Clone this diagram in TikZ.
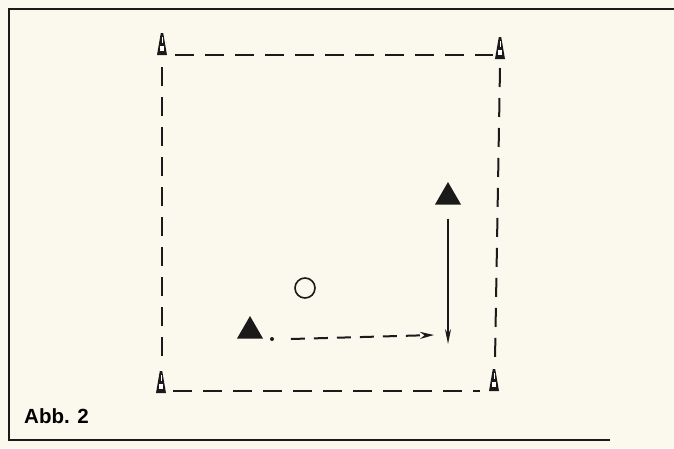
\documentclass[tikz,border=0pt]{standalone}
\usepackage{fontspec}
\setsansfont{Liberation Sans}
\usetikzlibrary{arrows.meta,shapes.geometric}
\definecolor{paper}{HTML}{FBF8EE}
\definecolor{ink}{HTML}{1A1A1A}
\tikzset{
  frameline/.style={draw=ink,line width=2pt},
  fieldline/.style={draw=ink,line width=2pt,dash pattern=on 19pt off 11pt},
  player/.style={regular polygon,regular polygon sides=3,fill=ink,draw=none,minimum size=30pt,inner sep=0pt},
  ball/.style={circle,draw=ink,line width=1.6pt,minimum size=20pt,inner sep=0pt},
  runarrow/.style={draw=ink,line width=2pt,dash pattern=on 14pt off 9pt,-{Stealth[length=14pt,width=7pt]}},
  passarrow/.style={draw=ink,line width=1.5pt,-{Stealth[length=15pt,width=6pt]}},
  pics/cone/.style={code={
    \fill[ink] (-1.2,-11) -- (1.2,-11) -- (5,11) -- (-5,11) -- cycle;
    \fill[white] (-2.4,2) rectangle (2.4,7);
    \fill[white] (-0.4,-7) rectangle (0.4,-1);
  }}
}
\begin{document}
\begin{tikzpicture}[x=1pt,y=-1pt]
\useasboundingbox (0,0) rectangle (674,448);
\fill[paper] (0,0) rectangle (674,448);
% frame
\draw[frameline] (675,9) -- (9,9) -- (9,440) -- (610,440);
% field
\draw[fieldline] (175,55) -- (493,55);
\draw[fieldline] (173,391) -- (480,391);
\draw[fieldline] (162,67) -- (162,367);
\draw[fieldline] (500,68) -- (495,360);
\pic at (162,44) {cone};
\pic at (500,48) {cone};
\pic at (161,382) {cone};
\pic at (494,380) {cone};
% players
\node[player] (p1) at (250,331) {};
\node[player] (p2) at (448,197) {};
\node[ball] (b) at (305,288) {};
\fill[ink] (272,339) circle (2pt);
\coordinate (e1) at (434,335);
\coordinate (e2) at (448,344);
\draw[runarrow] ([xshift=32pt,yshift=-8pt]p1.east) -- (e1);
\draw[passarrow] ([yshift=-14pt]p2.south) -- (e2);
\node[font=\sffamily\bfseries,anchor=west,inner sep=0pt] (lbl) at (24,416) {\fontsize{20.5}{22}\selectfont Abb. 2};
\end{tikzpicture}
\end{document}
